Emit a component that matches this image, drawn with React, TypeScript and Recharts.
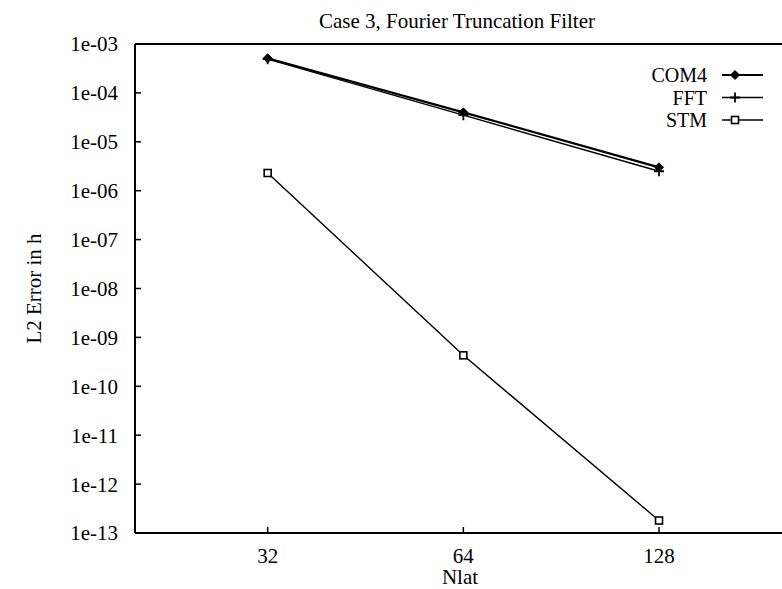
import React from 'react';
import { LineChart, Line, XAxis, YAxis, Legend } from 'recharts';

const nlat = [32, 64, 128];
const com4 = [5.1e-4, 4.0e-5, 3.0e-6];
const fft = [4.9e-4, 3.5e-5, 2.5e-6];
const stm = [2.3e-6, 4.3e-10, 1.8e-13];
const xTicks = [32, 64, 128];
const yTicks = [1e-13, 1e-12, 1e-11, 1e-10, 1e-9, 1e-8, 1e-7, 1e-6, 1e-5, 1e-4, 1e-3];
const seriesNames = ['COM4', 'FFT', 'STM'];

const data = nlat.map((n, i) => ({ nlat: n, com4: com4[i], fft: fft[i], stm: stm[i] }));

const FONT = '"Liberation Serif", "Times New Roman", serif';
const FS = 21;
const LFS = 20;

const fmtY = (v: number) => {
  const e = Math.round(Math.log10(v));
  return `1e-${String(-e).padStart(2, '0')}`;
};

const Diamond = (props: any) => {
  const { cx, cy } = props;
  if (cx == null || cy == null) return null;
  const r = 4.5;
  return <path key={`d${cx}`} d={`M${cx},${cy - r}L${cx + r},${cy}L${cx},${cy + r}L${cx - r},${cy}Z`} fill="#000" stroke="#000" strokeWidth={1} />;
};
const Plus = (props: any) => {
  const { cx, cy } = props;
  if (cx == null || cy == null) return null;
  const r = 5;
  return <path key={`p${cx}`} d={`M${cx - r},${cy}H${cx + r}M${cx},${cy - r}V${cy + r}`} stroke="#000" strokeWidth={1.8} fill="none" />;
};
const Square = (props: any) => {
  const { cx, cy } = props;
  if (cx == null || cy == null) return null;
  const r = 3.5;
  return <rect key={`s${cx}`} x={cx - r} y={cy - r} width={2 * r} height={2 * r} stroke="#000" strokeWidth={1.6} fill="#fff" />;
};

const markers = [Diamond, Plus, Square];
const widths = [2.2, 1.4, 1.4];

const renderLegend = () => (
  <svg width={180} height={72} style={{ display: 'block' }}>
    {seriesNames.map((name, i) => {
      const y = 13 + i * 22.5;
      const M = markers[i];
      return (
        <g key={name}>
          <text x={107} y={y} textAnchor="end" dominantBaseline="central" fontFamily={FONT} fontSize={LFS} fill="#000">{name}</text>
          <line x1={122} x2={163} y1={y} y2={y} stroke="#000" strokeWidth={widths[i]} />
          <M cx={135} cy={y} />
        </g>
      );
    })}
  </svg>
);

export default function App() {
  return (
    <div style={{ position: 'absolute', left: 0, top: 0, width: 782, height: 589, overflow: 'hidden', background: '#fff', fontFamily: FONT }}>
      <div style={{ position: 'absolute', left: 0, top: 7, width: 914, textAlign: 'center', fontSize: FS, color: '#000', lineHeight: '28px', zIndex: 2 }}>
        Case 3, Fourier Truncation Filter
      </div>
      <LineChart width={800} height={589} data={data} margin={{ top: 43, right: 0, bottom: 0, left: 0 }} style={{ fontFamily: FONT }}>
        <XAxis
          dataKey="nlat"
          type="number"
          scale="log"
          domain={[20, 200]}
          allowDataOverflow
          ticks={xTicks}
          interval={0}
          height={56}
          axisLine={{ stroke: '#000', strokeWidth: 2 }}
          tickLine={{ stroke: '#000', strokeWidth: 1.5 }}
          tickSize={-6}
          tickMargin={21}
          tick={{ fill: '#000', fontSize: FS, fontFamily: FONT }}
          label={{ value: 'Nlat', position: 'center', dy: 16, fill: '#000', fontSize: FS, fontFamily: FONT }}
        />
        <XAxis
          xAxisId="top"
          orientation="top"
          dataKey="nlat"
          type="number"
          scale="log"
          domain={[20, 200]}
          allowDataOverflow
          ticks={xTicks}
          interval={0}
          height={1}
          axisLine={{ stroke: '#000', strokeWidth: 2 }}
          tickLine={{ stroke: '#000', strokeWidth: 1.5 }}
          tickSize={-6}
          tick={false}
        />
        <YAxis
          type="number"
          scale="log"
          domain={[1e-13, 1e-3]}
          allowDataOverflow
          ticks={yTicks}
          interval={0}
          width={135}
          tickFormatter={fmtY}
          axisLine={{ stroke: '#000', strokeWidth: 2 }}
          tickLine={{ stroke: '#000', strokeWidth: 1.5 }}
          tickSize={-6}
          tickMargin={23}
          tick={{ fill: '#000', fontSize: FS, fontFamily: FONT }}
          label={{ value: 'L2 Error in h', angle: -90, position: 'center', dx: -34, fill: '#000', fontSize: FS, fontFamily: FONT }}
        />
        <YAxis
          yAxisId="right"
          orientation="right"
          type="number"
          scale="log"
          domain={[1e-13, 1e-3]}
          allowDataOverflow
          ticks={yTicks}
          interval={0}
          width={15}
          axisLine={{ stroke: '#000', strokeWidth: 2 }}
          tickLine={{ stroke: '#000', strokeWidth: 1.5 }}
          tickSize={-6}
          tick={false}
        />
        <Legend
          layout="vertical"
          align="center"
          verticalAlign="middle"
          content={renderLegend}
          wrapperStyle={{ position: 'absolute', left: 600, top: 62, width: 180, height: 72 }}
        />
        <Line dataKey="com4" name="COM4" stroke="#000" strokeWidth={2.2} dot={<Diamond />} isAnimationActive={false} />
        <Line dataKey="fft" name="FFT" stroke="#000" strokeWidth={1.4} dot={<Plus />} isAnimationActive={false} />
        <Line dataKey="stm" name="STM" stroke="#000" strokeWidth={1.4} dot={<Square />} isAnimationActive={false} />
      </LineChart>
    </div>
  );
}
